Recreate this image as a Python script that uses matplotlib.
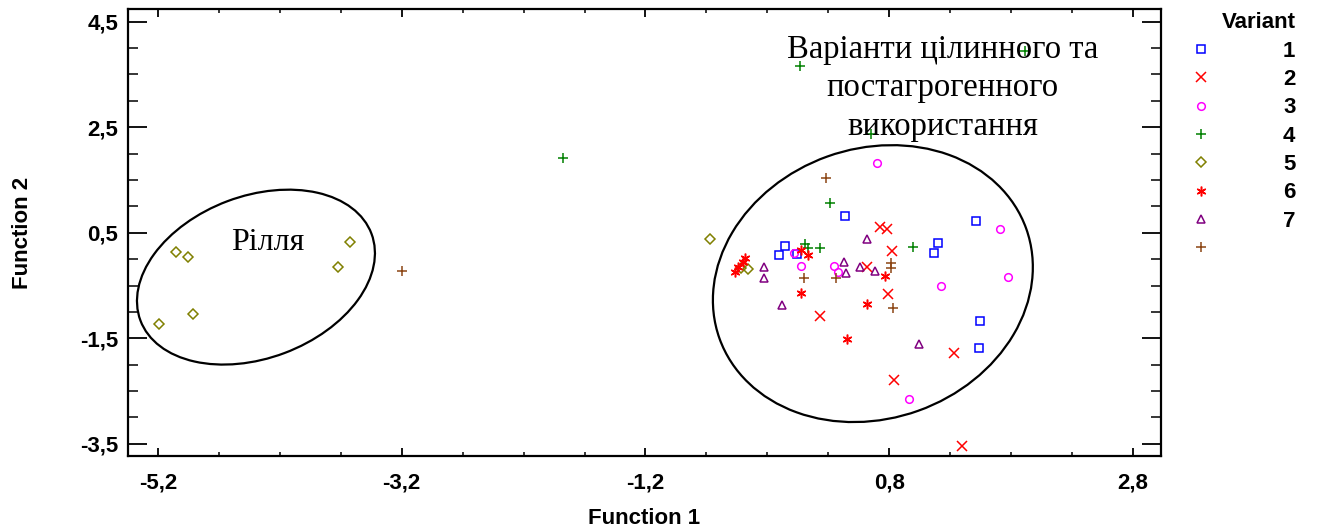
import matplotlib
matplotlib.use("Agg")
import numpy as np
import matplotlib.pyplot as plt
from matplotlib.patches import Ellipse
from matplotlib.transforms import ScaledTranslation
from matplotlib.ticker import FixedLocator, FuncFormatter
from matplotlib.lines import Line2D

# --- discriminant scores (Function 1, Function 2) ---
v1_x = [0.436, -0.054, -0.103, 0.040, 1.511, 1.201, 1.166, 1.547, 1.535]
v1_y = [0.817, 0.248, 0.077, 0.096, 0.728, 0.299, 0.109, -1.168, -1.680]

v2_x = [0.723, 0.778, 0.827, 0.619, 0.789, 0.236, 1.330, 0.842, 1.396]
v2_y = [0.614, 0.564, 0.159, -0.145, -0.662, -1.079, -1.786, -2.292, -3.544]

v3_x = [0.704, 0.020, 0.075, 0.346, 0.381, 1.713, 1.775, 1.221, 0.961]
v3_y = [1.816, 0.121, -0.131, -0.131, -0.251, 0.576, -0.334, -0.505, -2.653]

v4_x = [0.067, -1.878, 1.912, 0.649, 0.318, 0.108, 0.135, 0.236, 0.996]
v4_y = [3.660, 1.916, 3.945, 2.370, 1.069, 0.280, 0.204, 0.216, 0.235]

v5_x = [-5.052, -4.954, -3.625, -3.723, -4.915, -5.190, -0.672, -0.357, -0.412]
v5_y = [0.140, 0.045, 0.330, -0.145, -1.030, -1.225, 0.375, -0.190, -0.165]

v6_x = [-0.467, -0.440, -0.399, -0.385, 0.079, 0.135, 0.075, 0.619, 0.764, 0.456]
v6_y = [-0.239, -0.156, -0.050, 0.020, 0.172, 0.077, -0.637, -0.857, -0.321, -1.506]

v7_x = [-0.226, -0.226, -0.079, 0.427, 0.449, 0.564, 0.621, 0.681, 1.042]
v7_y = [-0.145, -0.364, -0.871, -0.050, -0.258, -0.145, 0.375, -0.226, -1.610]

v8_x = [-3.201, 0.280, 0.099, 0.367, 0.813, 0.813, 0.832]
v8_y = [-0.220, 1.543, -0.364, -0.364, -0.069, -0.175, -0.918]

variant_labels = ["1", "2", "3", "4", "5", "6", "7", ""]

x_major = [-5.2, -3.2, -1.2, 0.8, 2.8]
y_major = [-3.5, -1.5, 0.5, 2.5, 4.5]

series = [
    (v1_x, v1_y, "s", "#0000FF", 5.5),
    (v2_x, v2_y, "x", "#FF0000", 6.5),
    (v3_x, v3_y, "o", "#FF00FF", 5.5),
    (v4_x, v4_y, "+", "#008000", 7),
    (v5_x, v5_y, "D", "#808000", 5),
    (v6_x, v6_y, (6, 2, 0), "#FF0000", 7),
    (v7_x, v7_y, "^", "#800080", 6),
    (v8_x, v8_y, "+", "#8B4513", 7),
]

fig = plt.figure(figsize=(13.25, 5.31), dpi=100)
ax = fig.add_axes([0.0966, 0.1412, 0.7796, 0.8418])

handles = []
for (xs, ys, mk, col, ms), lab in zip(series, variant_labels):
    ax.plot(xs, ys, linestyle="none", marker=mk, markersize=ms,
            markerfacecolor="none", markeredgecolor=col, markeredgewidth=1.1)
    handles.append(Line2D([], [], linestyle="none", marker=mk, markersize=ms,
                          markerfacecolor="none", markeredgecolor=col,
                          markeredgewidth=1.1))

ax.set_xlim(-5.446, 3.03)
ax.set_ylim(-3.73, 4.74)


def add_ellipse(cx, cy, a_in, b_in, angle):
    # ellipse sized in inches, centred on a data point
    tr = fig.dpi_scale_trans + ScaledTranslation(cx, cy, ax.transData)
    ax.add_patch(Ellipse((0, 0), 2 * a_in, 2 * b_in, angle=angle,
                         transform=tr, fill=False, ec="black", lw=1.6))


add_ellipse(-4.396, -0.340, 1.234, 0.811, 20.6)
add_ellipse(0.666, -0.463, 1.629, 1.350, 19.7)

serif = ["Liberation Serif", "DejaVu Serif"]
ax.text(-4.298, 0.324, "Рілля", family=serif, fontsize=23,
        ha="center", va="center")
ax.text(1.240, 3.243, "Варіанти цілинного та\nпостагрогенного\nвикористання",
        family=serif, fontsize=23.5, ha="center", va="center", linespacing=1.33)

comma = FuncFormatter(lambda v, p: f"{v:.1f}".replace(".", ","))
ax.xaxis.set_major_locator(FixedLocator(x_major))
ax.yaxis.set_major_locator(FixedLocator(y_major))
ax.xaxis.set_minor_locator(FixedLocator(np.arange(-5.2, 3.0, 0.5)))
ax.yaxis.set_minor_locator(FixedLocator(np.arange(-3.5, 4.6, 0.5)))
ax.xaxis.set_major_formatter(comma)
ax.yaxis.set_major_formatter(comma)

ax.tick_params(axis="x", which="major", direction="in", length=6, width=1.3,
               top=True, pad=12)
ax.tick_params(axis="x", which="minor", direction="in", length=3, width=1.1,
               top=True)
ax.tick_params(axis="y", which="major", direction="in", length=14, width=1.3,
               right=True, pad=7)
ax.tick_params(axis="y", which="minor", direction="in", length=7, width=1.1,
               right=True)
for sp in ax.spines.values():
    sp.set_linewidth(1.6)

sans = ["Liberation Sans", "DejaVu Sans"]
for lbl in ax.get_xticklabels() + ax.get_yticklabels():
    lbl.set_family(sans)
    lbl.set_fontweight("bold")
    lbl.set_fontsize(16)

ax.set_xlabel("Function 1", family=sans, fontweight="bold", fontsize=16,
              labelpad=10)
ax.set_ylabel("Function 2", family=sans, fontweight="bold", fontsize=16,
              labelpad=34)

leg = ax.legend(handles, variant_labels, title="Variant", frameon=False,
                loc="upper left", bbox_to_anchor=(0.887, 1.004),
                bbox_transform=fig.transFigure, handlelength=1.0,
                handletextpad=3.2, labelspacing=0.33, borderpad=0.15,
                alignment="right",
                prop={"family": "Liberation Sans", "weight": "bold", "size": 16},
                title_fontproperties={"family": "Liberation Sans",
                                      "weight": "bold", "size": 16})

fig.savefig("out.png", dpi=100, facecolor="white")
